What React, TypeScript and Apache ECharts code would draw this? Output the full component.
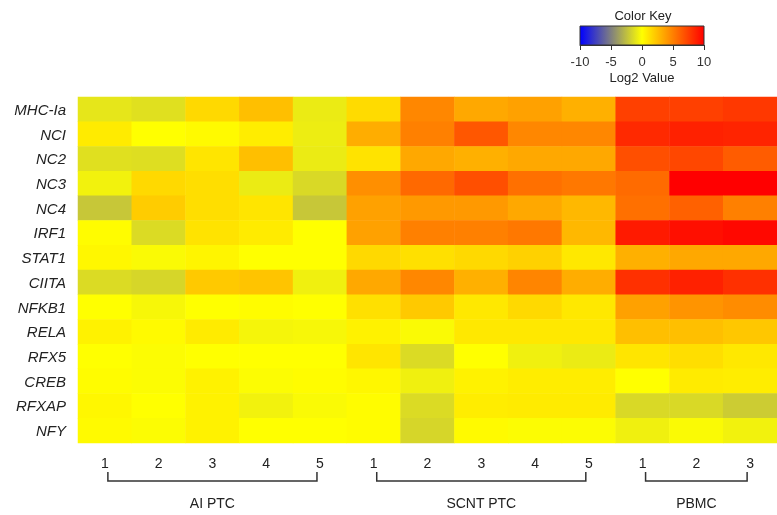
import React, { useEffect, useRef } from "react";
import * as echarts from "echarts";

const genes = ["MHC-Ia", "NCI", "NC2", "NC3", "NC4", "IRF1", "STAT1", "CIITA", "NFKB1", "RELA", "RFX5", "CREB", "RFXAP", "NFY"];
const columns = ["AI-1", "AI-2", "AI-3", "AI-4", "AI-5", "SCNT-1", "SCNT-2", "SCNT-3", "SCNT-4", "SCNT-5", "PBMC-1", "PBMC-2", "PBMC-3"];
const groups = [
  { name: "AI PTC", first: 0, last: 4 },
  { name: "SCNT PTC", first: 5, last: 9 },
  { name: "PBMC", first: 10, last: 12 },
];

// log2 values, one row per gene, columns as in `columns`
const mhcIa = [-1.0, -1.2, 1.5, 2.5, -0.8, 1.4, 4.7, 3.4, 3.7, 3.1, 7.5, 7.5, 7.8];
const nci = [0.8, 0.0, 0.2, 0.7, -0.7, 3.2, 5.0, 6.6, 4.7, 4.7, 8.4, 8.7, 8.6];
const nc2 = [-1.2, -1.3, 1.0, 2.5, -0.8, 1.1, 3.4, 3.1, 3.4, 3.4, 6.9, 7.2, 6.4];
const nc3 = [-0.5, 1.5, 1.3, -0.8, -1.5, 4.4, 5.9, 6.9, 5.6, 5.3, 5.8, 10.0, 10.0];
const nc4 = [-2.2, 2.0, 1.3, 1.0, -2.2, 3.7, 4.0, 4.0, 3.4, 2.8, 5.6, 6.2, 5.0];
const irf1 = [0.1, -1.4, 1.1, 0.8, 0.0, 3.7, 5.0, 5.0, 5.3, 2.8, 9.0, 9.4, 9.7];
const stat1 = [0.3, -0.2, 0.4, 0.0, 0.0, 1.5, 1.2, 1.5, 1.8, 0.9, 3.1, 3.4, 3.4];
const ciita = [-1.4, -1.6, 2.1, 2.3, -0.6, 3.4, 4.7, 3.1, 4.8, 3.2, 8.1, 8.7, 8.1];
const nfkb1 = [0.0, -0.3, 0.0, 0.1, 0.0, 1.2, 2.1, 0.9, 1.5, 0.9, 3.7, 4.2, 4.5];
const rela = [0.5, 0.2, 0.8, -0.4, -0.3, 0.5, -0.2, 0.9, 0.9, 0.9, 2.5, 2.5, 2.2];
const rfx5 = [0.0, -0.1, 0.0, 0.0, 0.0, 1.0, -1.4, 0.0, -0.6, -0.8, 1.0, 1.3, 0.9];
const creb = [0.1, -0.1, 0.5, -0.1, 0.1, 0.3, -0.6, 0.5, 0.7, 0.7, 0.0, 0.8, 0.7];
const rfxap = [0.3, 0.0, 0.5, -0.5, -0.2, 0.1, -1.4, 0.7, 0.8, 0.8, -1.5, -1.5, -2.0];
const nfy = [0.2, -0.1, 0.5, 0.0, 0.0, 0.1, -1.6, 0.2, -0.1, -0.1, -0.6, -0.2, -0.5];
const rows = [mhcIa, nci, nc2, nc3, nc4, irf1, stat1, ciita, nfkb1, rela, rfx5, creb, rfxap, nfy];

const keyColors = ["#0000ff", "#ffff00", "#ff0000"];

const FONT = "Liberation Sans, Arial, sans-serif";

export default function App() {
  const ref = useRef<HTMLDivElement>(null);
  useEffect(() => {
    if (!ref.current) return;
    const chart = echarts.init(ref.current, null, { renderer: "svg" });
    const data: number[][] = [];
    rows.forEach((r, yi) => r.forEach((v, xi) => data.push([xi, yi, v])));

    chart.setOption({
      animation: false,
      textStyle: { fontFamily: FONT },
      grid: [
        { left: 78, top: 97, width: 702, height: 346 },
        {
          left: 580,
          top: 26,
          width: 124,
          height: 19,
          show: true,
          borderColor: "#333",
          borderWidth: 1,
          backgroundColor: new echarts.graphic.LinearGradient(0, 0, 1, 0, [
            { offset: 0, color: keyColors[0] },
            { offset: 0.5, color: keyColors[1] },
            { offset: 1, color: keyColors[2] },
          ]),
        },
      ],
      xAxis: [
        {
          type: "category",
          gridIndex: 0,
          data: columns,
          position: "bottom",
          axisLine: { show: false },
          axisTick: { show: false },
          splitLine: { show: false },
          axisLabel: {
            margin: 13,
            fontSize: 14,
            color: "#222",
            fontFamily: FONT,
            formatter: (v: string) => v.split("-")[1],
          },
        },
        {
          type: "value",
          gridIndex: 1,
          min: -10,
          max: 10,
          interval: 5,
          axisLine: { show: true, lineStyle: { color: "#333" } },
          axisTick: { show: true, length: 5, lineStyle: { color: "#333" } },
          splitLine: { show: false },
          axisLabel: {
            margin: 10,
            fontSize: 13,
            color: "#333",
            fontFamily: FONT,
            formatter: (v: number) => String(v),
          },
          name: "Log2 Value",
          nameLocation: "middle",
          nameGap: 26,
          nameTextStyle: { fontSize: 13, color: "#222", fontFamily: FONT },
        },
      ],
      yAxis: [
        {
          type: "category",
          gridIndex: 0,
          data: genes,
          inverse: true,
          axisLine: { show: false },
          axisTick: { show: false },
          splitLine: { show: false },
          axisLabel: {
            margin: 12,
            fontSize: 15,
            fontStyle: "italic",
            color: "#222",
            fontFamily: FONT,
          },
        },
        { type: "value", gridIndex: 1, show: false, min: 0, max: 1 },
      ],
      visualMap: {
        show: false,
        type: "continuous",
        min: -10,
        max: 10,
        seriesIndex: 0,
        inRange: { color: keyColors },
      },
      series: [
        {
          type: "heatmap",
          xAxisIndex: 0,
          yAxisIndex: 0,
          data,
          itemStyle: { borderWidth: 0 },
          emphasis: { disabled: true },
        },
      ],
    });

    const yTop = 472;
    const yLine = 481;
    const graphics: any[] = [
      {
        type: "text",
        x: 643,
        y: 15,
        style: { text: "Color Key", align: "center", verticalAlign: "middle", fontSize: 13, fill: "#222", fontFamily: FONT },
      },
    ];
    groups.forEach((g) => {
      const x1 = (chart.convertToPixel({ xAxisIndex: 0 }, g.first) as number) + 3;
      const x2 = (chart.convertToPixel({ xAxisIndex: 0 }, g.last) as number) - 3;
      graphics.push({
        type: "polyline",
        shape: { points: [[x1, yTop], [x1, yLine], [x2, yLine], [x2, yTop]] },
        style: { stroke: "#333", lineWidth: 1.5, fill: null },
      });
      graphics.push({
        type: "text",
        x: (x1 + x2) / 2,
        y: 503,
        style: { text: g.name, align: "center", verticalAlign: "middle", fontSize: 14, fill: "#222", fontFamily: FONT },
      });
    });
    chart.setOption({ graphic: graphics });

    return () => chart.dispose();
  }, []);
  return <div ref={ref} style={{ position: "fixed", left: 0, top: 0, width: 777, height: 515 }} />;
}
